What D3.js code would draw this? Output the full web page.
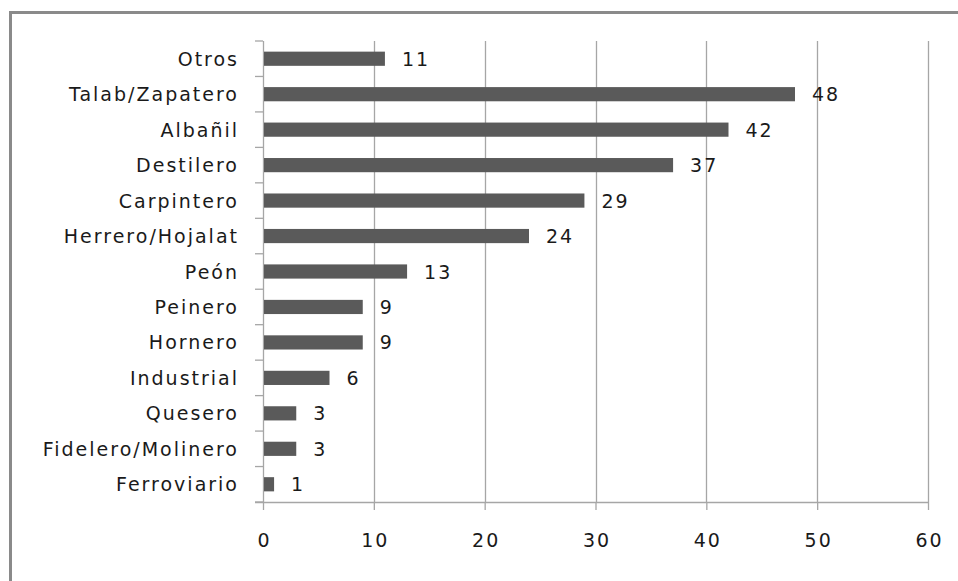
<!DOCTYPE html>
<html>
<head>
<meta charset="utf-8">
<script src="https://cdn.jsdelivr.net/npm/d3@7"></script>
<style>
  html, body { margin: 0; padding: 0; background: #fff; }
  svg { display: block; }
  text { font-family: "DejaVu Sans", sans-serif; fill: #1a1a1a; }
</style>
</head>
<body>
<svg id="chart" width="958" height="581"></svg>
<script>
const categories = ["Otros", "Talab/Zapatero", "Albañil", "Destilero", "Carpintero",
  "Herrero/Hojalat", "Peón", "Peinero", "Hornero", "Industrial", "Quesero",
  "Fidelero/Molinero", "Ferroviario"];
const values = [11, 48, 42, 37, 29, 24, 13, 9, 9, 6, 3, 3, 1];
const xTicks = [0, 10, 20, 30, 40, 50, 60];

(function () {
const svg = d3.select("#chart");
const pLeft = 263, pRight = 928, pTop = 41, pBottom = 502;
const fontSize = "19px", spacing = "2px";

// frame
svg.append("rect")
  .attr("x", 10.5).attr("y", 12.5)
  .attr("width", 1000).attr("height", 1000)
  .attr("fill", "none").attr("stroke", "#8a8a8a").attr("stroke-width", 3);

const x = d3.scaleLinear().domain([0, 60]).range([pLeft, pRight]);
const y = d3.scaleBand().domain(categories).range([pTop, pBottom])
  .paddingInner(0.6).paddingOuter(0.3);

const gridColor = "#a6a6a6";

// vertical gridlines
svg.append("g").selectAll("line")
  .data(xTicks.filter(d => d > 0))
  .join("line")
  .attr("x1", d => Math.round(x(d)) + 0.5).attr("x2", d => Math.round(x(d)) + 0.5)
  .attr("y1", pTop).attr("y2", pBottom)
  .attr("stroke", gridColor).attr("stroke-width", 1.3);

// x axis
const xAxis = d3.axisBottom(x).tickValues(xTicks).tickSize(8).tickPadding(24).tickFormat(d3.format("d"));
const gx = svg.append("g").attr("transform", `translate(0,${pBottom})`).call(xAxis);
gx.select(".domain").remove();
gx.selectAll(".tick line").attr("stroke", gridColor).attr("stroke-width", 1.3);
gx.selectAll(".tick text")
  .style("font-family", '"DejaVu Sans", sans-serif')
  .style("font-size", fontSize).style("letter-spacing", spacing)
  .attr("dx", 1)
  .attr("fill", "#1a1a1a");
svg.append("line")
  .attr("x1", 255).attr("x2", pRight)
  .attr("y1", pBottom + 0.5).attr("y2", pBottom + 0.5)
  .attr("stroke", gridColor).attr("stroke-width", 1.3);

// y axis line and category ticks at band boundaries
svg.append("line")
  .attr("x1", pLeft + 0.5).attr("x2", pLeft + 0.5)
  .attr("y1", pTop).attr("y2", pBottom)
  .attr("stroke", gridColor).attr("stroke-width", 1.3);
const step = y.step();
const boundaries = d3.range(categories.length + 1).map(i => pTop + i * step);
svg.append("g").selectAll("line")
  .data(boundaries)
  .join("line")
  .attr("x1", 255).attr("x2", pLeft)
  .attr("y1", d => d).attr("y2", d => d)
  .attr("stroke", gridColor).attr("stroke-width", 1.3);

// bars
svg.append("g").selectAll("rect")
  .data(categories)
  .join("rect")
  .attr("x", x(0) + 1)
  .attr("y", d => y(d))
  .attr("width", (d, i) => x(values[i]) - x(0) - 1)
  .attr("height", y.bandwidth())
  .attr("fill", "#5a5a5a");

// category labels
svg.append("g").selectAll("text")
  .data(categories)
  .join("text")
  .attr("x", 239)
  .attr("y", d => y(d) + y.bandwidth() / 2 + 7)
  .attr("text-anchor", "end")
  .style("font-size", fontSize).style("letter-spacing", spacing)
  .text(d => d);

// value labels
svg.append("g").selectAll("text")
  .data(categories)
  .join("text")
  .attr("x", (d, i) => x(values[i]) + 17)
  .attr("y", d => y(d) + y.bandwidth() / 2 + 7)
  .style("font-size", fontSize).style("letter-spacing", spacing)
  .text((d, i) => values[i]);
})();
</script>
</body>
</html>
